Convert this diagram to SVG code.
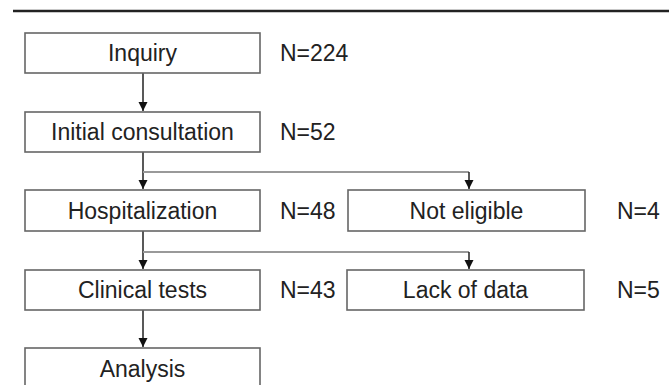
<svg xmlns="http://www.w3.org/2000/svg" width="669" height="385" viewBox="0 0 669 385">
<defs>
<style>
.box{fill:#fff;stroke:#666;stroke-width:1.6}
.t{font-family:"Liberation Sans",Arial,sans-serif;font-size:23px;fill:#222}
.c{text-anchor:middle}
.v{stroke:#222;stroke-width:1.5;fill:none}
.h{stroke:#999;stroke-width:2;fill:none}
</style>
<marker id="ah" markerWidth="10" markerHeight="10" refX="9" refY="5" orient="auto" markerUnits="userSpaceOnUse">
<path d="M0,0.5 L9,5 L0,9.5 Z" fill="#111"/>
</marker>
</defs>
<rect width="669" height="385" fill="#fff"/>
<line x1="13" y1="11" x2="669" y2="11" stroke="#222" stroke-width="2.5"/>
<g id="connectors">
<line class="v" x1="143" y1="73" x2="143" y2="111" marker-end="url(#ah)"/>
<line class="v" x1="143" y1="152" x2="143" y2="189" marker-end="url(#ah)"/>
<polyline class="h" points="143,172 469,172"/>
<line class="v" x1="469" y1="172" x2="469" y2="189" marker-end="url(#ah)"/>
<line class="v" x1="143" y1="231" x2="143" y2="269" marker-end="url(#ah)"/>
<polyline class="h" points="143,252 469,252"/>
<line class="v" x1="469" y1="252" x2="469" y2="269" marker-end="url(#ah)"/>
<line class="v" x1="143" y1="310" x2="143" y2="347" marker-end="url(#ah)"/>
</g>
<g id="inquiry"><rect class="box" x="25" y="33" width="235" height="40"/><text class="t c" x="142.5" y="61">Inquiry</text></g>
<text class="t" x="280" y="61">N=224</text>
<g id="initial"><rect class="box" x="25" y="112" width="235" height="40"/><text class="t c" x="142.5" y="140">Initial consultation</text></g>
<text class="t" x="280" y="140">N=52</text>
<g id="hosp"><rect class="box" x="25" y="190" width="235" height="41"/><text class="t c" x="142.5" y="219">Hospitalization</text></g>
<text class="t" x="280" y="219">N=48</text>
<g id="noteligible"><rect class="box" x="348" y="190" width="237" height="41"/><text class="t c" x="466.5" y="219">Not eligible</text></g>
<text class="t" x="617" y="219">N=4</text>
<g id="clinical"><rect class="box" x="25" y="270" width="235" height="40"/><text class="t c" x="142.5" y="298">Clinical tests</text></g>
<text class="t" x="280" y="298">N=43</text>
<g id="lack"><rect class="box" x="347" y="270" width="237" height="40"/><text class="t c" x="465.5" y="298">Lack of data</text></g>
<text class="t" x="617" y="298">N=5</text>
<g id="analysis"><rect class="box" x="25" y="348" width="235" height="45"/><text class="t c" x="142.5" y="377">Analysis</text></g>
</svg>
